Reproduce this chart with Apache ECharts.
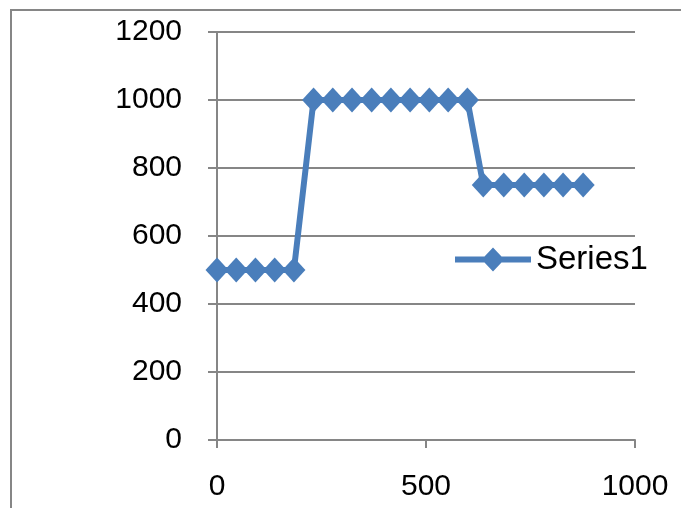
<!DOCTYPE html>
<html>
<head>
<meta charset="utf-8">
<script src="https://cdn.jsdelivr.net/npm/echarts@6/dist/echarts.min.js"></script>
<style>
html,body{margin:0;padding:0;background:#fff;}
#chart{width:681px;height:508px;}
</style>
</head>
<body>
<div id="chart"></div>
<script>
var seriesName = 'Series1';
var xValues = [0, 46, 92, 138, 184, 231, 277, 323, 370, 416, 462, 508, 553, 599, 637, 686, 735, 782, 828, 876];
var yValues = [500, 500, 500, 500, 500, 1000, 1000, 1000, 1000, 1000, 1000, 1000, 1000, 1000, 750, 750, 750, 750, 750, 750];
var xTicks = [0, 500, 1000];
var yTicks = [0, 200, 400, 600, 800, 1000, 1200];

var points = xValues.map(function (x, i) { return [x, yValues[i]]; });
var gray = '#868686';
var blue = '#4a7ebb';
var font = '"Liberation Sans", Arial, sans-serif';
function plain(v) { return String(v); }
var legendIcon = 'path://M0,9 L29.5,9 L38,0 L46.5,9 L76,9 L76,15 L46.5,15 L38,24 L29.5,15 L0,15 Z';

var chart = echarts.init(document.getElementById('chart'), null, {renderer: 'canvas'});
chart.setOption({
  animation: false,
  backgroundColor: '#fff',
  graphic: [{
    type: 'rect',
    shape: {x: 11, y: 10, width: 700, height: 600},
    style: {fill: 'none', stroke: gray, lineWidth: 2},
    z: 0
  }],
  grid: {left: 217, right: 46, top: 32, bottom: 68, containLabel: false},
  legend: {
    data: [{name: seriesName, icon: legendIcon}],
    left: 455,
    top: 243,
    padding: 0,
    itemWidth: 76,
    itemHeight: 24,
    itemGap: 6,
    itemStyle: {color: blue, borderWidth: 0},
    textStyle: {fontFamily: font, fontSize: 33, color: '#000'}
  },
  xAxis: {
    type: 'value',
    min: xTicks[0],
    max: xTicks[xTicks.length - 1],
    interval: 500,
    axisLine: {show: true, onZero: false, lineStyle: {color: gray, width: 2}},
    axisTick: {show: true, length: 8, lineStyle: {color: gray, width: 2}},
    splitLine: {show: false},
    axisLabel: {fontFamily: font, fontSize: 30, color: '#000', margin: 32, formatter: plain}
  },
  yAxis: {
    type: 'value',
    min: yTicks[0],
    max: yTicks[yTicks.length - 1],
    interval: 200,
    axisLine: {show: true, onZero: false, lineStyle: {color: gray, width: 2}},
    axisTick: {show: true, length: 9, lineStyle: {color: gray, width: 2}},
    splitLine: {show: true, lineStyle: {color: gray, width: 2}},
    axisLabel: {fontFamily: font, fontSize: 30, color: '#000', margin: 35, formatter: plain}
  },
  series: [{
    name: seriesName,
    type: 'line',
    data: points,
    symbol: 'diamond',
    symbolSize: [23, 25],
    lineStyle: {color: blue, width: 6},
    itemStyle: {color: blue, borderWidth: 0},
    z: 3
  }]
});
</script>
</body>
</html>
